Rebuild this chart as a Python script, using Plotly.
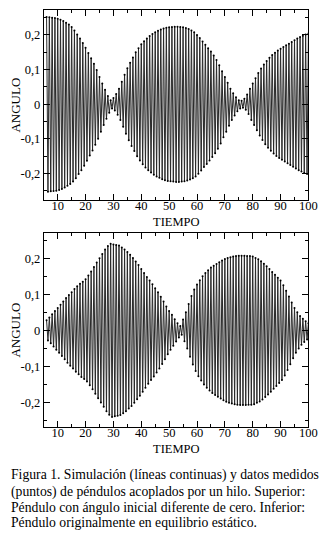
import plotly.graph_objects as go

# Time (one oscillation per time unit)
tiempo = list(range(6, 101))

# Peak amplitude of each oscillation, upper panel (read from the envelope)
amp_superior = [
    0.252, 0.251, 0.250, 0.249, 0.247, 0.244, 0.240, 0.235, 0.230, 0.223,
    0.213, 0.201, 0.190, 0.177, 0.163, 0.148, 0.133, 0.117, 0.099, 0.079,
    0.060, 0.042, 0.024, 0.012, 0.018, 0.030, 0.045, 0.065, 0.085, 0.104,
    0.120, 0.135, 0.150, 0.162, 0.173, 0.182, 0.190, 0.197, 0.203, 0.208,
    0.212, 0.216, 0.219, 0.221, 0.222, 0.223, 0.224, 0.224, 0.223, 0.222,
    0.220, 0.217, 0.213, 0.208, 0.200, 0.191, 0.181, 0.172, 0.162, 0.152,
    0.141, 0.128, 0.113, 0.095, 0.079, 0.062, 0.045, 0.032, 0.020, 0.012,
    0.010, 0.016, 0.028, 0.045, 0.060, 0.075, 0.090, 0.103, 0.115, 0.125,
    0.134, 0.142, 0.149, 0.155, 0.160, 0.165, 0.170, 0.175, 0.180, 0.185,
    0.190, 0.194, 0.198, 0.201, 0.204,
]

# Peak amplitude of each oscillation, lower panel
amp_inferior = [
    0.028, 0.036, 0.045, 0.054, 0.062, 0.071, 0.080, 0.090, 0.098, 0.106,
    0.115, 0.122, 0.129, 0.135, 0.142, 0.152, 0.163, 0.176, 0.188, 0.200,
    0.212, 0.224, 0.234, 0.240, 0.238, 0.237, 0.235, 0.230, 0.224, 0.217,
    0.210, 0.201, 0.191, 0.181, 0.170, 0.159, 0.148, 0.138, 0.128, 0.117,
    0.106, 0.093, 0.080, 0.066, 0.054, 0.043, 0.031, 0.020, 0.012, 0.030,
    0.050, 0.073, 0.095, 0.113, 0.127, 0.139, 0.150, 0.159, 0.167, 0.174,
    0.179, 0.184, 0.189, 0.194, 0.198, 0.201, 0.203, 0.205, 0.206, 0.207,
    0.207, 0.207, 0.206, 0.206, 0.205, 0.201, 0.197, 0.192, 0.185, 0.178,
    0.170, 0.162, 0.154, 0.146, 0.138, 0.125, 0.110, 0.094, 0.077, 0.062,
    0.050, 0.040, 0.032, 0.025, 0.020,
]

x_ticks = [10, 20, 30, 40, 50, 60, 70, 80, 90, 100]
y_ticks = [-0.2, -0.1, 0, 0.1, 0.2]
y_ticktext = ["-0,2", "-0,1", "0", "0,1", "0,2"]

caption_lines = [
    "Figura 1. Simulación (líneas continuas) y datos medidos",
    "(puntos) de péndulos acoplados por un hilo. Superior:",
    "Péndulo con ángulo inicial diferente de cero. Inferior:",
    "Péndulo originalmente en equilibrio estático.",
]

FONT = "Liberation Serif"


def zigzag(t, amp):
    xs, ys = [], []
    for ti, a in zip(t, amp):
        xs += [ti, ti + 0.5]
        ys += [a, -a]
    return xs, ys


fig = go.Figure()
for i, amp in enumerate([amp_superior, amp_inferior]):
    xs, ys = zigzag(tiempo, amp)
    ax = "" if i == 0 else "2"
    fig.add_trace(go.Scatter(x=xs, y=ys, mode="lines",
                             line=dict(color="#2a2a2a", width=1),
                             xaxis="x" + ax, yaxis="y" + ax,
                             showlegend=False, hoverinfo="skip"))
    fig.add_trace(go.Scatter(x=xs, y=ys, mode="markers",
                             marker=dict(color="black", size=2),
                             xaxis="x" + ax, yaxis="y" + ax,
                             showlegend=False, hoverinfo="skip"))

W, H = 333, 534
x_dom = [45 / W, 317 / W]
top_dom = [1 - 200 / H, 1 - 10 / H]
bot_dom = [1 - 427 / H, 1 - 233 / H]

common_x = dict(range=[5, 100], tickvals=x_ticks, ticks="inside", ticklen=6,
                tickcolor="black", showline=True, linecolor="black",
                linewidth=1, mirror="ticks", showgrid=False, zeroline=False,
                ticklabelstandoff=-6,
                tickfont=dict(family=FONT, size=12.5, color="black"),
                minor=dict(ticks="inside", dtick=5, ticklen=3,
                           tickcolor="black", showgrid=False))
common_y = dict(tickvals=y_ticks, ticktext=y_ticktext, ticks="inside",
                ticklen=6, tickcolor="black", showline=True,
                linecolor="black", linewidth=1, mirror="ticks",
                showgrid=False, zeroline=False,
                tickfont=dict(family=FONT, size=12.5, color="black"),
                minor=dict(ticks="inside", dtick=0.05, ticklen=3,
                           tickcolor="black", showgrid=False))

annotations = []
for ypx in (222, 449):
    annotations.append(dict(text="TIEMPO", x=181 / W, y=1 - ypx / H,
                            xref="paper", yref="paper", xanchor="center",
                            yanchor="middle", showarrow=False,
                            font=dict(family=FONT, size=12.5, color="black")))
for ypx in (105, 330):
    annotations.append(dict(text="ANGULO", x=15 / W, y=1 - ypx / H,
                            xref="paper", yref="paper", xanchor="center",
                            yanchor="middle", showarrow=False, textangle=-90,
                            font=dict(family=FONT, size=13, color="black")))
for line, ypx in zip(caption_lines, (475, 491.5, 507, 522.5)):
    annotations.append(dict(text=line, x=9 / W, y=1 - ypx / H,
                            xref="paper", yref="paper", xanchor="left",
                            yanchor="middle", align="left", showarrow=False,
                            font=dict(family=FONT, size=13.7, color="black")))

fig.update_layout(
    width=W, height=H,
    margin=dict(l=0, r=0, t=0, b=0),
    paper_bgcolor="white", plot_bgcolor="white",
    xaxis=dict(domain=x_dom, anchor="y", **common_x),
    yaxis=dict(domain=top_dom, anchor="x", range=[-0.276, 0.272], **common_y),
    xaxis2=dict(domain=x_dom, anchor="y2", **common_x),
    yaxis2=dict(domain=bot_dom, anchor="x2", range=[-0.268, 0.27], **common_y),
    annotations=annotations,
)

fig.write_html("out.html", config={"displayModeBar": False},
               post_script="document.body.style.margin='0';"
                           "document.body.style.overflow='hidden';")
